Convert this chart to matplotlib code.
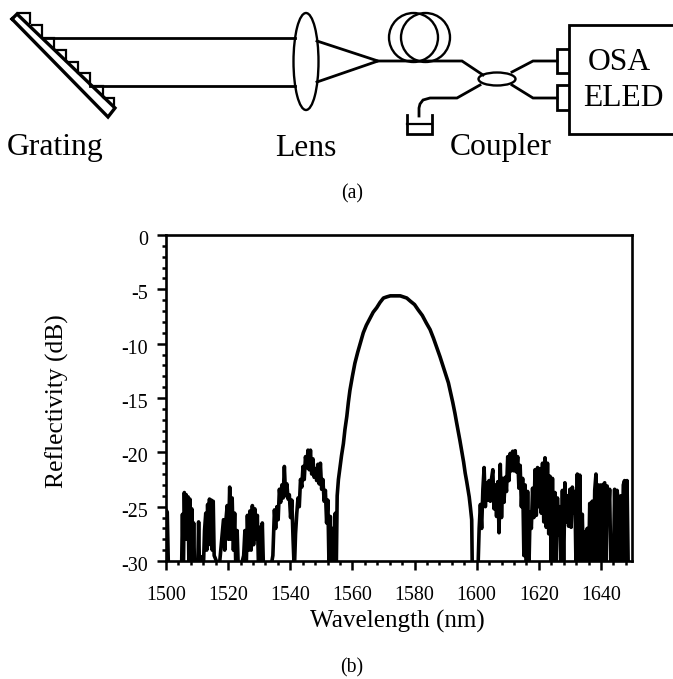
import matplotlib
matplotlib.use("Agg")
import matplotlib.pyplot as plt
import matplotlib.transforms as mtransforms
from matplotlib.patches import Ellipse, Circle

plt.rcParams['font.family'] = ['Liberation Serif', 'DejaVu Serif']
plt.rcParams['axes.unicode_minus'] = False

# Reflectivity curve
left_wl = [1500.0, 1500.4, 1500.8, 1501.5, 1505.0, 1505.3, 1505.6, 1505.9, 1506.2, 1506.5, 1506.8, 1507.1,
           1507.4, 1507.7, 1508.0, 1508.3, 1508.6, 1508.9, 1509.2, 1510.2, 1510.5, 1510.8, 1511.2, 1511.6,
           1512.0, 1512.4, 1512.8, 1513.1, 1513.4, 1513.7, 1514.0, 1514.3, 1514.6, 1514.9, 1515.2, 1515.5,
           1515.8, 1516.2, 1517.0, 1518.5, 1518.9, 1519.3, 1519.7, 1520.1, 1520.5, 1520.9, 1521.3, 1521.7,
           1522.1, 1522.5, 1522.9, 1523.3, 1523.7, 1525.0, 1525.4, 1525.8, 1526.2, 1526.6, 1527.0, 1527.4,
           1527.8, 1528.2, 1528.6, 1529.0, 1529.4, 1529.8, 1530.2, 1530.6, 1531.0, 1531.4]
left_db = [-25.3, -25.5, -31, -31, -31, -25.7, -31, -23.7, -28, -23.9, -28, -24.1,
           -31, -24.3, -29, -25.2, -31, -26.5, -31, -31, -26.4, -31, -29.6, -31,
           -31, -27.2, -25.6, -29, -24.8, -28, -24.3, -28.5, -24.4, -29, -24.5, -29.5,
           -29.7, -30, -31, -26.2, -29, -26.2, -24.9, -28, -23.2, -28, -24.2, -29,
           -25.6, -31, -27.2, -31, -31, -29.5, -27.2, -31, -25.8, -29, -25.4, -29,
           -24.9, -28.5, -25.2, -28, -25.8, -31, -26.9, -31, -26.5, -31]

arch_wl = [1533.5, 1534.4, 1534.9, 1535.3, 1535.7, 1536.1, 1536.5, 1536.9, 1537.3, 1537.7, 1538.1, 1538.5,
           1538.9, 1539.3, 1539.7, 1540.1, 1540.5, 1540.9, 1541.3, 1541.7, 1542.1, 1542.5, 1542.9, 1543.3,
           1543.7, 1544.1, 1544.5, 1544.9, 1545.3, 1545.7, 1546.1, 1546.5, 1546.9, 1547.3, 1547.7, 1548.1,
           1548.5, 1548.9, 1549.3, 1549.7, 1550.1, 1550.5, 1550.9, 1551.3, 1551.7, 1552.1, 1552.5, 1552.9,
           1553.3, 1553.7, 1554.1]
arch_db = [-31, -29.5, -25.3, -27, -25, -26.2, -23.4, -24.6, -23, -24.2, -21.3, -24,
           -22.9, -24.3, -23.9, -26, -24.4, -28, -31, -27.5, -25.6, -24.2, -25, -22.5,
           -23.2, -21.3, -22.5, -20.4, -21.4, -19.8, -21.6, -19.8, -22, -20.6, -22.3, -21.5,
           -22.6, -21.1, -22.9, -21, -23.4, -22.5, -24.5, -23.5, -26.5, -24.4, -31, -25.9,
           -31, -27, -31]

lobe_wl = [1554.5, 1554.8, 1555.1, 1555.5, 1556.0, 1556.5, 1557.1, 1557.6, 1558.2, 1558.7, 1559.2, 1560.0,
           1560.8, 1561.7, 1562.6, 1563.5, 1564.5, 1565.6, 1566.7, 1567.8, 1568.9, 1570.0, 1571.0, 1572.2,
           1573.3, 1574.3, 1575.4, 1576.5, 1577.5, 1578.7, 1580.0, 1581.2, 1582.5, 1583.8, 1585.0, 1586.1,
           1587.2, 1588.2, 1589.1, 1590.0, 1590.9, 1591.6, 1592.3, 1593.0, 1593.5, 1594.1, 1594.6, 1595.2,
           1595.8, 1596.3, 1596.8, 1597.2, 1597.6, 1598.0, 1598.4, 1598.6]
lobe_db = [-25.6, -31, -24.0, -22.5, -21.4, -20.3, -19.2, -17.9, -16.7, -15.4, -14.3, -13.0,
           -11.8, -10.8, -9.9, -9.0, -8.3, -7.7, -7.1, -6.7, -6.2, -5.8, -5.7, -5.6,
           -5.6, -5.6, -5.6, -5.7, -5.8, -6.1, -6.4, -6.9, -7.4, -8.1, -8.7, -9.5,
           -10.4, -11.2, -12.0, -12.8, -13.6, -14.5, -15.4, -16.4, -17.2, -18.1, -18.9, -19.9,
           -20.9, -21.9, -22.7, -23.4, -24.1, -25.1, -26.2, -31]

right_wl = [1600.4, 1600.8, 1601.2, 1601.6, 1602.0, 1602.4, 1602.8, 1603.2, 1603.6, 1604.0, 1604.4, 1604.8,
            1605.2, 1605.6, 1606.0, 1606.4, 1606.8, 1607.2, 1607.6, 1608.0, 1608.4, 1608.8, 1609.2, 1609.6,
            1610.0, 1610.4, 1610.8, 1611.2, 1611.6, 1612.0, 1612.4, 1612.8, 1613.2, 1613.6, 1614.0, 1614.4,
            1614.8, 1615.2, 1615.6, 1616.0, 1616.4, 1616.8, 1617.2, 1617.6, 1618.0, 1618.4, 1618.8, 1619.2,
            1619.6, 1620.0, 1620.4, 1620.8, 1621.2, 1621.6, 1622.0, 1622.4, 1622.8, 1623.2, 1623.6, 1624.0,
            1624.4, 1624.8, 1625.2, 1625.6, 1626.0, 1626.4, 1626.8, 1627.2, 1627.6, 1628.0, 1628.4, 1628.8,
            1629.2, 1629.6, 1630.0, 1630.4, 1630.8, 1631.2, 1631.6, 1632.0, 1632.4, 1632.8, 1633.2, 1633.6,
            1634.0, 1634.4, 1634.8, 1635.2, 1635.6, 1636.0, 1636.4, 1636.8, 1637.2, 1637.6, 1638.0, 1638.4,
            1638.8, 1639.2, 1639.6, 1640.0, 1640.4, 1640.8, 1641.2, 1641.6, 1642.0, 1642.4, 1642.8, 1643.2,
            1644.0, 1644.4, 1644.8, 1645.2, 1645.6, 1646.0, 1646.4, 1646.8, 1647.2, 1647.6, 1648.0, 1648.4,
            1648.8]
right_db = [-31, -27, -24.8, -27, -23.4, -21.4, -25.0, -22.8, -24.4, -22.6, -24.5, -22.4,
            -21.6, -25.2, -23, -25.9, -22.7, -27.4, -21.1, -26, -22.4, -24.6, -22.3, -23.6,
            -20.4, -22.6, -20.1, -21.7, -19.9, -21.7, -19.85, -21.8, -20.4, -23.3, -21.2, -25,
            -22.4, -29.5, -23, -31, -23.6, -31, -25.5, -27, -23.3, -26.0, -21.6, -25.8,
            -21.4, -25.0, -21.5, -25.6, -21.0, -26.4, -20.5, -26.9, -21.0, -27.5, -22.2, -31,
            -22.4, -31, -23.7, -31, -24.2, -27.6, -25, -31, -23.5, -31, -22.8, -26.4,
            -24, -26.8, -23.4, -26.9, -23.2, -25.6, -23.6, -31, -22, -31, -22.1, -31,
            -25.7, -31, -27.3, -31, -27, -31, -24.7, -31, -24.5, -31, -23.5, -22,
            -31, -23, -31, -23, -31, -23, -22.8, -31, -23.1, -26, -23.4, -31,
            -31, -23.4, -31, -23.5, -24.7, -31, -24, -31, -23, -22.6, -31, -22.6,
            -31]

wavelength = left_wl + arch_wl + lobe_wl + right_wl
reflectivity = left_db + arch_db + lobe_db + right_db

x_major = [1500, 1520, 1540, 1560, 1580, 1600, 1620, 1640]
y_major = [0, -5, -10, -15, -20, -25, -30]

# Setup schematic, in pixels of the figure
teeth_tops = [(18, 13, 30, 23), (32, 25, 42, 37), (43, 38, 54, 48), (56, 50, 66, 61),
              (68, 62, 78, 73), (81, 73, 90, 85), (93, 86, 103, 97), (104, 98, 114, 108)]
grating_bar = [(12, 19), (17, 14), (115, 108), (108, 117), (12, 19)]
beams = [[(44, 38), (295, 38)], [(90, 86), (295, 86)]]
focus = [(317, 41), (378, 61), (317, 82)]
fibre_in = [(378, 61), (462, 61), (483, 75)]
fibre_up = [(512, 72), (533, 61), (557, 61)]
fibre_down = [(512, 85), (533, 98), (557, 98)]
fibre_dump = [(480, 85), (457, 98), (430, 98), (423, 100), (420, 104), (419, 108), (419, 116)]
dump_box = [(407, 115), (407, 134), (432, 134), (432, 115)]
dump_level = [(407, 124), (432, 124)]
port_up = [(568, 49), (557, 49), (557, 73), (568, 73)]
port_down = [(568, 85), (557, 85), (557, 110), (568, 110)]
instrument = [(673, 25), (569, 25), (569, 134), (673, 134)]


def draw_path(ax, pts, lw=2.0):
    ax.plot([p[0] for p in pts], [p[1] for p in pts], color='black', lw=lw, solid_joinstyle='miter')


fig = plt.figure(figsize=(6.73, 6.79), dpi=100)

# (a) schematic
sk = fig.add_axes([0, 0, 1, 1])
sk.set_xlim(0, 673)
sk.set_ylim(679, 0)
sk.axis('off')

draw_path(sk, grating_bar, lw=2.4)
for x0, y0, x1, y1 in teeth_tops:
    draw_path(sk, [(x0, y0), (x1, y0), (x1, y1)], lw=1.6)
for b in beams:
    draw_path(sk, b)
draw_path(sk, focus)
for p in [fibre_in, fibre_up, fibre_down, fibre_dump, dump_box, port_up, port_down, instrument]:
    draw_path(sk, p)
draw_path(sk, dump_level, lw=1.6)
sk.add_patch(Ellipse((306, 61.5), 25, 97, fc='white', ec='black', lw=1.7))
sk.add_patch(Ellipse((497, 79), 37, 13, fc='white', ec='black', lw=1.7))
sk.add_patch(Circle((413.5, 37.5), 24.5, fc='none', ec='black', lw=1.7))
sk.add_patch(Circle((425.5, 37.5), 24.5, fc='none', ec='black', lw=1.7))

sk.text(55, 148, 'Grating', fontsize=22.8, ha='center', va='center')
sk.text(306, 148, 'Lens', fontsize=22.8, ha='center', va='center')
sk.text(501, 148, 'Coupler', fontsize=22.8, ha='center', va='center')
sk.text(619, 63, 'OSA', fontsize=22.8, ha='center', va='center')
sk.text(623, 99, 'ELED', fontsize=22.8, ha='center', va='center')
sk.text(352, 194, '(a)', fontsize=14.2, ha='center', va='center')
sk.text(352, 668, '(b)', fontsize=14.2, ha='center', va='center')

# (b) reflectivity spectrum
ax = fig.add_axes([166 / 673, 1 - 561 / 679, 466 / 673, 326 / 679])
ax.plot(wavelength, reflectivity, color='black', lw=2.6)
ax.set_xlim(1500, 1650)
ax.set_ylim(-30, 0)
ax.set_xticks(x_major)
ax.set_yticks(y_major)
ax.set_xticks(range(1500, 1650, 4), minor=True)
ax.set_yticks(range(-30, 1), minor=True)
ax.tick_params(which='major', length=6.5, width=1.8, labelsize=14.4)
ax.tick_params(which='minor', length=3.2, width=1.8)
ax.tick_params(axis='x', which='major', pad=11.5)
ax.tick_params(axis='y', which='major', pad=6.5)
for s in ax.spines.values():
    s.set_linewidth(1.9)
ax.set_xlabel('Wavelength (nm)', fontsize=18.1)
ax.set_ylabel('Reflectivity (dB)', fontsize=18.4)
ax.xaxis.set_label_coords(0.497, -0.15)
ax.yaxis.set_label_coords(-0.208, 0.489)

# y labels sit a little under their ticks in the original
shift = mtransforms.ScaledTranslation(0, -0.03, fig.dpi_scale_trans)
for lab in ax.get_yticklabels():
    lab.set_transform(lab.get_transform() + shift)

fig.savefig('out.png', dpi=100)
